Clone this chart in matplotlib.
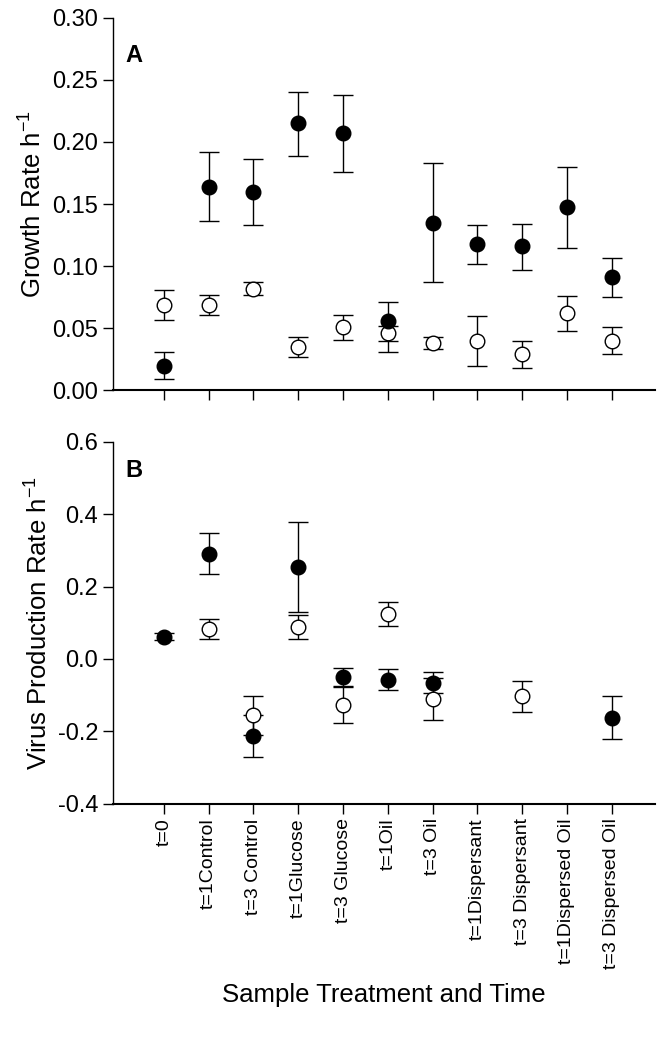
import matplotlib
matplotlib.use("Agg")
import matplotlib.pyplot as plt
import numpy as np

plt.rcParams["font.family"] = ["Liberation Sans", "DejaVu Sans"]
plt.rcParams["mathtext.default"] = "regular"

labels = ["t=0", "t=1Control", "t=3 Control", "t=1Glucose", "t=3 Glucose",
          "t=1Oil", "t=3 Oil", "t=1Dispersant", "t=3 Dispersant",
          "t=1Dispersed Oil", "t=3 Dispersed Oil"]

# panel A: growth rate
growth_filled = [0.020, 0.164, 0.160, 0.215, 0.207, 0.056, 0.135, 0.118, 0.116, 0.148, 0.091]
growth_filled_lo = [0.011, 0.028, 0.027, 0.026, 0.031, 0.025, 0.048, 0.016, 0.019, 0.033, 0.016]
growth_filled_hi = [0.011, 0.028, 0.026, 0.025, 0.031, 0.015, 0.048, 0.015, 0.018, 0.032, 0.016]
growth_open = [0.069, 0.069, 0.082, 0.035, 0.051, 0.046, 0.038, 0.040, 0.029, 0.062, 0.040]
growth_open_err = [0.012, 0.008, 0.005, 0.008, 0.010, 0.006, 0.005, 0.020, 0.011, 0.014, 0.011]

# panel B: virus production rate (nan = not shown)
virus_filled = [0.062, 0.291, -0.213, 0.253, -0.050, -0.057, -0.065, np.nan, np.nan, np.nan, -0.162]
virus_filled_err = [0.010, 0.056, 0.057, 0.124, 0.026, 0.029, 0.030, np.nan, np.nan, np.nan, 0.060]
virus_open = [np.nan, 0.082, -0.156, 0.089, -0.126, 0.123, -0.110, np.nan, -0.103, np.nan, np.nan]
virus_open_err = [np.nan, 0.027, 0.054, 0.033, 0.052, 0.033, 0.058, np.nan, 0.043, np.nan, np.nan]

x = np.arange(len(labels))

fig = plt.figure(figsize=(6.64, 10.44), dpi=100)
ax1 = fig.add_axes([0.170, 0.626, 0.816, 0.357])
ax2 = fig.add_axes([0.170, 0.230, 0.816, 0.347])

ekw = dict(fmt="o", color="black", ecolor="black", elinewidth=1.0,
           capsize=7, capthick=1.0, markersize=10.5)

ax1.errorbar(x, growth_open, yerr=growth_open_err, mfc="white", mec="black", mew=1.0, **ekw)
ax1.errorbar(x, growth_filled, yerr=[growth_filled_lo, growth_filled_hi], mfc="black", mec="black", **ekw)

ax2.errorbar(x, virus_open, yerr=virus_open_err, mfc="white", mec="black", mew=1.0, **ekw)
ax2.errorbar(x, virus_filled, yerr=virus_filled_err, mfc="black", mec="black", **ekw)

for ax in (ax1, ax2):
    ax.spines["top"].set_visible(False)
    ax.spines["right"].set_visible(False)
    ax.spines["left"].set_linewidth(1.0)
    ax.spines["bottom"].set_linewidth(1.5)
    ax.set_xlim(-1.14, 10.96)
    ax.set_xticks(x)
    ax.tick_params(axis="both", direction="out", length=7, width=1.0, labelsize=17)

ax1.set_ylim(0, 0.30)
ax1.set_yticks([0, 0.05, 0.10, 0.15, 0.20, 0.25, 0.30])
ax1.set_yticklabels(["0.00", "0.05", "0.10", "0.15", "0.20", "0.25", "0.30"])
ax1.set_xticklabels([])
ax1.set_ylabel("Growth Rate h$^{-1}$", fontsize=18.5)
ax1.text(-0.85, 0.27, "A", fontsize=17, fontweight="bold", va="center")

ax2.set_ylim(-0.4, 0.6)
ax2.set_yticks([-0.4, -0.2, 0.0, 0.2, 0.4, 0.6])
ax2.set_yticklabels(["-0.4", "-0.2", "0.0", "0.2", "0.4", "0.6"])
ax2.set_xticklabels(labels, rotation=90, fontsize=14)
ax2.set_ylabel("Virus Production Rate h$^{-1}$", fontsize=18.5)
ax2.set_xlabel("Sample Treatment and Time", fontsize=18.5, labelpad=10)
ax2.text(-0.85, 0.52, "B", fontsize=17, fontweight="bold", va="center")

fig.savefig("out.png", dpi=100)
